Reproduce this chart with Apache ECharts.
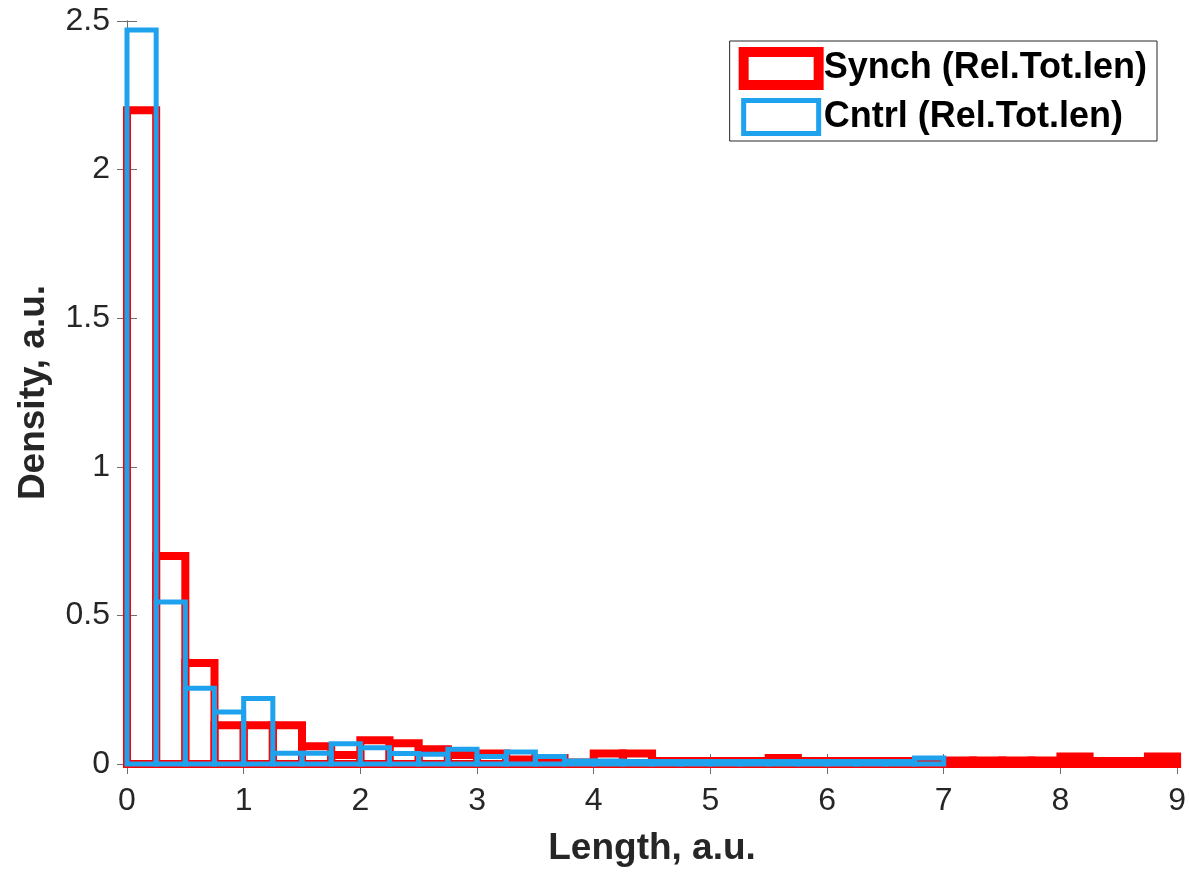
<!DOCTYPE html>
<html>
<head>
    <meta charset="UTF-8">
    <title>histogram</title>
    <script src="https://cdn.jsdelivr.net/npm/echarts@6/dist/echarts.min.js"></script>
    <style>
        body, html {
            margin: 0;
            padding: 0;
            height: 100%;
            width: 100%;
            background: #fff;
        }

        #main {
            width: 1189px;
            height: 872px;
        }
    </style>
</head>
<body>
<div id="main"></div>
<script>
    // bin edges (width 0.25)
    var binEdges = [0, 0.25, 0.5, 0.75, 1, 1.25, 1.5, 1.75, 2, 2.25, 2.5, 2.75, 3, 3.25, 3.5, 3.75,
        4, 4.25, 4.5, 4.75, 5, 5.25, 5.5, 5.75, 6, 6.25, 6.5, 6.75, 7, 7.25, 7.5, 7.75,
        8, 8.25, 8.5, 8.75, 9];

    var synchDensity = [2.20, 0.70, 0.34, 0.13, 0.13, 0.13, 0.06, 0.03, 0.08, 0.07, 0.05, 0.03,
        0.035, 0.015, 0.02, 0.005, 0.035, 0.035, 0.01, 0.01, 0.01, 0.01, 0.02, 0.01,
        0.01, 0.01, 0.01, 0.004, 0.012, 0.012, 0.012, 0.012, 0.025, 0.01, 0.01, 0.025];

    var cntrlDensity = [2.47, 0.545, 0.255, 0.175, 0.22, 0.036, 0.036, 0.068, 0.055, 0.035, 0.033, 0.05,
        0.025, 0.04, 0.025, 0.01, 0.01, 0.008, 0.008, 0.008, 0.008, 0.008, 0.008, 0.008,
        0.008, 0.008, 0.008, 0.02];

    var xTicks = [0, 9, 1];
    var yTicks = [0, 2.5, 0.5];

    var chart = echarts.init(document.getElementById('main'), null, {renderer: 'canvas'});

    function toBins(vals) {
        var out = [];
        for (var i = 0; i < vals.length; i++) {
            out.push([binEdges[i], binEdges[i + 1], vals[i]]);
        }
        return out;
    }

    function outlineBars(color, width) {
        return function (params, api) {
            var p0 = api.coord([api.value(0), 0]);
            var p1 = api.coord([api.value(1), api.value(2)]);
            return {
                type: 'rect',
                shape: {x: p0[0], y: p1[1], width: p1[0] - p0[0], height: p0[1] - p1[1]},
                style: {fill: 'none', stroke: color, lineWidth: width}
            };
        };
    }

    var red = '#ff0000';
    var blue = '#1fa2ee';
    var axisColor = '#6e6e6e';
    var font = 'Liberation Sans, Arial';
    var labelFont = {color: '#262626', fontSize: 32, fontFamily: font};
    var titleFont = {color: '#262626', fontSize: 37, fontWeight: 'bold', fontFamily: font};

    var option = {
        animation: false,
        backgroundColor: '#fff',
        grid: {left: 127, right: 9, top: 21, bottom: 107},
        legend: {
            right: 32, top: 41,
            orient: 'vertical',
            itemWidth: 75, itemHeight: 33, itemGap: 8,
            padding: [6, 10, 5, 9],
            borderColor: '#262626', borderWidth: 1, backgroundColor: '#fff',
            textStyle: {color: '#000', fontSize: 36, fontWeight: 'bold', fontFamily: font},
            data: [
                {name: 'Synch (Rel.Tot.len)', icon: 'rect', itemStyle: {color: '#fff', borderColor: red, borderWidth: 10}},
                {name: 'Cntrl (Rel.Tot.len)', icon: 'rect', itemStyle: {color: '#fff', borderColor: blue, borderWidth: 5}}
            ]
        },
        xAxis: [{
            type: 'value', min: xTicks[0], max: xTicks[1], interval: xTicks[2],
            name: 'Length, a.u.', nameLocation: 'middle', nameGap: 66,
            nameTextStyle: titleFont,
            axisLine: {show: true, lineStyle: {color: axisColor, width: 1}},
            axisTick: {show: true, inside: true, length: 10, lineStyle: {color: axisColor}},
            axisLabel: Object.assign({margin: 21}, labelFont),
            splitLine: {show: false}
        }, {
            type: 'value', position: 'top', min: xTicks[0], max: xTicks[1], interval: xTicks[2],
            axisLine: {show: true, lineStyle: {color: axisColor, width: 1}},
            axisTick: {show: true, inside: true, length: 10, lineStyle: {color: axisColor}},
            axisLabel: {show: false},
            splitLine: {show: false}
        }],
        yAxis: [{
            type: 'value', min: yTicks[0], max: yTicks[1], interval: yTicks[2],
            name: 'Density, a.u.', nameLocation: 'middle', nameGap: 75,
            nameTextStyle: titleFont,
            axisLine: {show: true, lineStyle: {color: axisColor, width: 1}},
            axisTick: {show: true, inside: true, length: 10, lineStyle: {color: axisColor}},
            axisLabel: Object.assign({margin: 17}, labelFont),
            splitLine: {show: false}
        }, {
            type: 'value', position: 'right', min: yTicks[0], max: yTicks[1], interval: yTicks[2],
            axisLine: {show: true, lineStyle: {color: axisColor, width: 1}},
            axisTick: {show: true, inside: true, length: 10, lineStyle: {color: axisColor}},
            axisLabel: {show: false},
            splitLine: {show: false}
        }],
        series: [{
            name: 'Synch (Rel.Tot.len)',
            type: 'custom',
            clip: false,
            renderItem: outlineBars(red, 8),
            encode: {x: [0, 1], y: 2},
            data: toBins(synchDensity)
        }, {
            name: 'Cntrl (Rel.Tot.len)',
            type: 'custom',
            clip: false,
            renderItem: outlineBars(blue, 5),
            encode: {x: [0, 1], y: 2},
            data: toBins(cntrlDensity)
        }]
    };

    chart.setOption(option);
</script>
</body>
</html>
